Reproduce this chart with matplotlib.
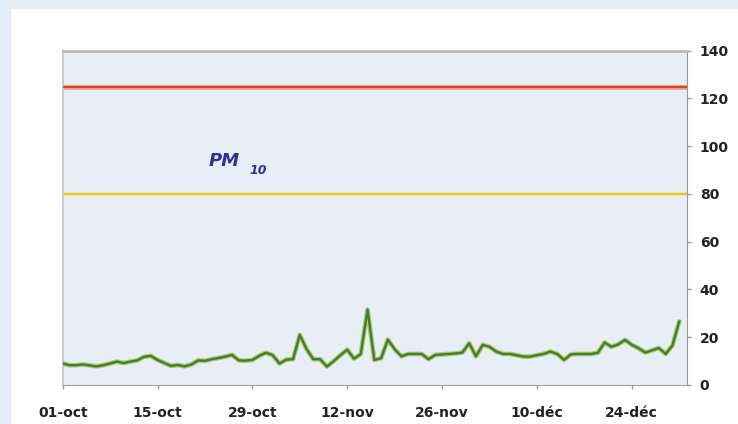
import matplotlib

matplotlib.use("Agg")
import matplotlib.pyplot as plt
import numpy as np
from matplotlib.patches import Rectangle

plt.rcParams["font.family"] = ["DejaVu Sans"]

# daily PM10 values, 01-oct .. 31-dec
pm10 = [
    9.0, 8.3, 8.3, 8.6, 8.2, 7.8, 8.3, 9.0, 9.8, 9.2,
    9.8, 10.3, 11.8, 12.2, 10.5, 9.2, 8.0, 8.4, 7.8, 8.6,
    10.3, 10.1, 10.8, 11.3, 11.9, 12.6, 10.3, 10.2, 10.5, 12.2,
    13.5, 12.5, 9.0, 10.6, 10.8, 21.0, 15.0, 10.8, 10.8, 7.7,
    10.0, 12.5, 14.8, 11.0, 13.0, 31.6, 10.5, 11.2, 19.0, 15.0,
    12.0, 13.0, 13.0, 13.0, 10.8, 12.6, 12.8, 13.0, 13.2, 13.6,
    17.5, 12.0, 16.8, 16.0, 14.0, 13.0, 13.0, 12.5, 11.9, 11.9,
    12.5, 13.0, 14.0, 13.0, 10.5, 12.8, 13.0, 13.0, 13.0, 13.5,
    17.8, 16.0, 17.0, 18.9, 16.8, 15.4, 13.6, 14.5, 15.5, 13.0,
    16.5, 26.5,
]
red_limit = 125
yellow_limit = 80
tick_days = [0, 14, 28, 42, 56, 70, 84]
tick_labels = ["01-oct", "15-oct", "29-oct", "12-nov", "26-nov", "10-déc", "24-déc"]
y_ticks = [0, 20, 40, 60, 80, 100, 120, 140]

days = np.arange(len(pm10))

fig = plt.figure(figsize=(7.38, 4.24), dpi=100)
fig.patch.set_facecolor("white")
# light blue page strips at top and left
fig.patches.append(Rectangle((0, 1 - 8 / 424), 1, 8 / 424, transform=fig.transFigure,
                             color="#e3eef9", zorder=0))
fig.patches.append(Rectangle((0, 0), 10 / 738, 1, transform=fig.transFigure,
                             color="#e3eef9", zorder=0))

ax = fig.add_axes([62.7 / 738, 1 - 385 / 424, 624.6 / 738, 334.3 / 424])
ax.set_facecolor("#e8eef6")

ax.axhline(red_limit, color="#f2a892", lw=3.6, zorder=2)
ax.axhline(red_limit, color="#d8452a", lw=1.6, zorder=3)
ax.axhline(yellow_limit, color="#f6e7a6", lw=3.2, zorder=2)
ax.axhline(yellow_limit, color="#e3c623", lw=1.4, zorder=3)

ax.plot(days, pm10, color="#a8cc78", lw=3.4, zorder=4, solid_joinstyle="round")
ax.plot(days, pm10, color="#4b7a2a", lw=1.7, zorder=5, solid_joinstyle="round")

ax.text(21.5, 93.7, "PM", fontsize=13, fontweight="bold", fontstyle="italic",
        color="#2e3192", ha="left", va="center")
ax.text(27.5, 90.0, "10", fontsize=9, fontweight="bold", fontstyle="italic",
        color="#2e3192", ha="left", va="center")

ax.set_xlim(0, 92.2)
ax.set_ylim(0, 140)
ax.set_xticks(tick_days)
ax.set_xticklabels(tick_labels)
ax.set_yticks(y_ticks)
ax.yaxis.tick_right()

ax.tick_params(axis="x", direction="out", length=3, width=1, color="#999999",
               pad=12, labelsize=10, labelcolor="#222222")
ax.tick_params(axis="y", direction="out", length=3, width=1, color="#999999",
               pad=6, labelsize=10, labelcolor="#222222")
for lab in ax.get_xticklabels() + ax.get_yticklabels():
    lab.set_fontweight("bold")

ax.spines["top"].set_color("#b8b8c0")
ax.spines["top"].set_linewidth(2)
ax.spines["left"].set_color("#c8ccd4")
ax.spines["left"].set_linewidth(1.5)
ax.spines["right"].set_color("#999999")
ax.spines["bottom"].set_color("#a0a0a0")

fig.savefig("out.png", dpi=100)
